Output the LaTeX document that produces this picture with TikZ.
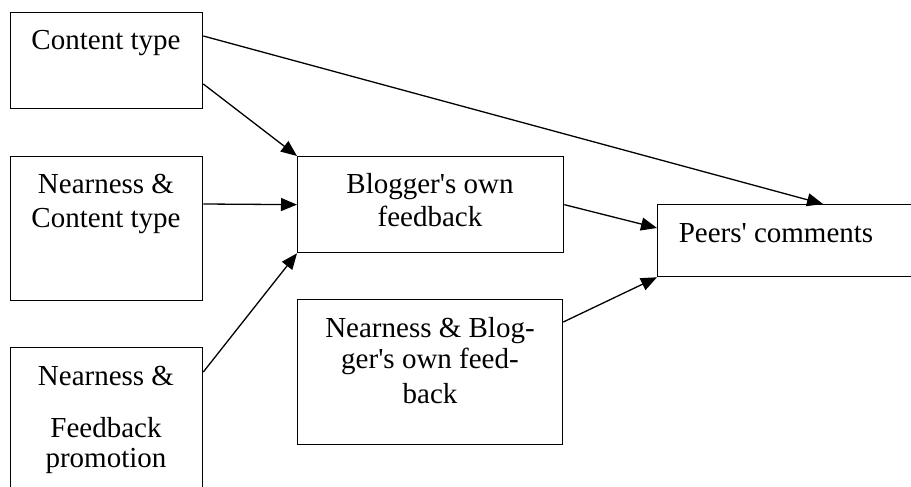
\documentclass[tikz,border=0pt]{standalone}
\usepackage{fontspec}
\setmainfont{Liberation Serif}
\usetikzlibrary{arrows.meta,calc}
\newcommand{\sq}{\textquotesingle}
\begin{document}
\begin{tikzpicture}[x=1pt,y=-1pt,
  box/.style={draw,line width=1.3pt,rectangle,inner sep=0pt,anchor=north west},
  txt/.style={anchor=base,inner sep=0pt,font=\fontsize{29}{33}\selectfont},
  arr/.style={line width=1.3pt,-{Triangle[length=16pt,width=13pt]}}]
\useasboundingbox (0,0) rectangle (911,487);
% boxes
\node[box,minimum width=192pt,minimum height=96pt] (ct) at (10,12) {};
\node[box,minimum width=192pt,minimum height=144pt] (nc) at (10,156) {};
\node[box,minimum width=192pt,minimum height=160pt] (nf) at (10,347) {};
\node[box,minimum width=266pt,minimum height=96pt] (bf) at (297,156) {};
\node[box,minimum width=280pt,minimum height=72pt] (pc) at (657,204) {};
\node[box,minimum width=265pt,minimum height=145pt] (nb) at (297,299) {};
% texts
\node[txt] (t1) at (106,50) {Content type};
\node[txt] (t2a) at (106,193) {Nearness \&};
\node[txt] (t2b) at (106,227) {Content type};
\node[txt] (t3a) at (106,385) {Nearness \&};
\node[txt] (t3b) at (106,437) {Feedback};
\node[txt] (t3c) at (106,467) {promotion};
\node[txt] (t4a) at (430,193) {Blogger\sq s own};
\node[txt] (t4b) at (430,226) {feedback};
\node[txt] (t5) at (776,242) {Peers\sq{} comments};
\node[txt] (t6a) at (430,337) {Nearness \& Blog-};
\node[txt] (t6b) at (430,368) {ger\sq s own feed-};
\node[txt] (t6c) at (430,403) {back};
% connectors
\coordinate (ptop) at ($(pc.north west)+(166,0)$);
\draw[arr] ($(ct.north east)+(0,24)$) -- (ptop);
\draw[arr] ($(ct.north east)+(0,72)$) -- (bf.north west);
\draw[arr] ($(nc.north east)+(0,48)$) -- (bf.west);
\draw[arr] ($(nf.north east)+(0,25)$) -- (bf.south west);
\draw[arr] (bf.east) -- ($(pc.north west)+(0,24)$);
\draw[arr] ($(nb.north east)+(0,23)$) -- (pc.south west);
\end{tikzpicture}
\end{document}
